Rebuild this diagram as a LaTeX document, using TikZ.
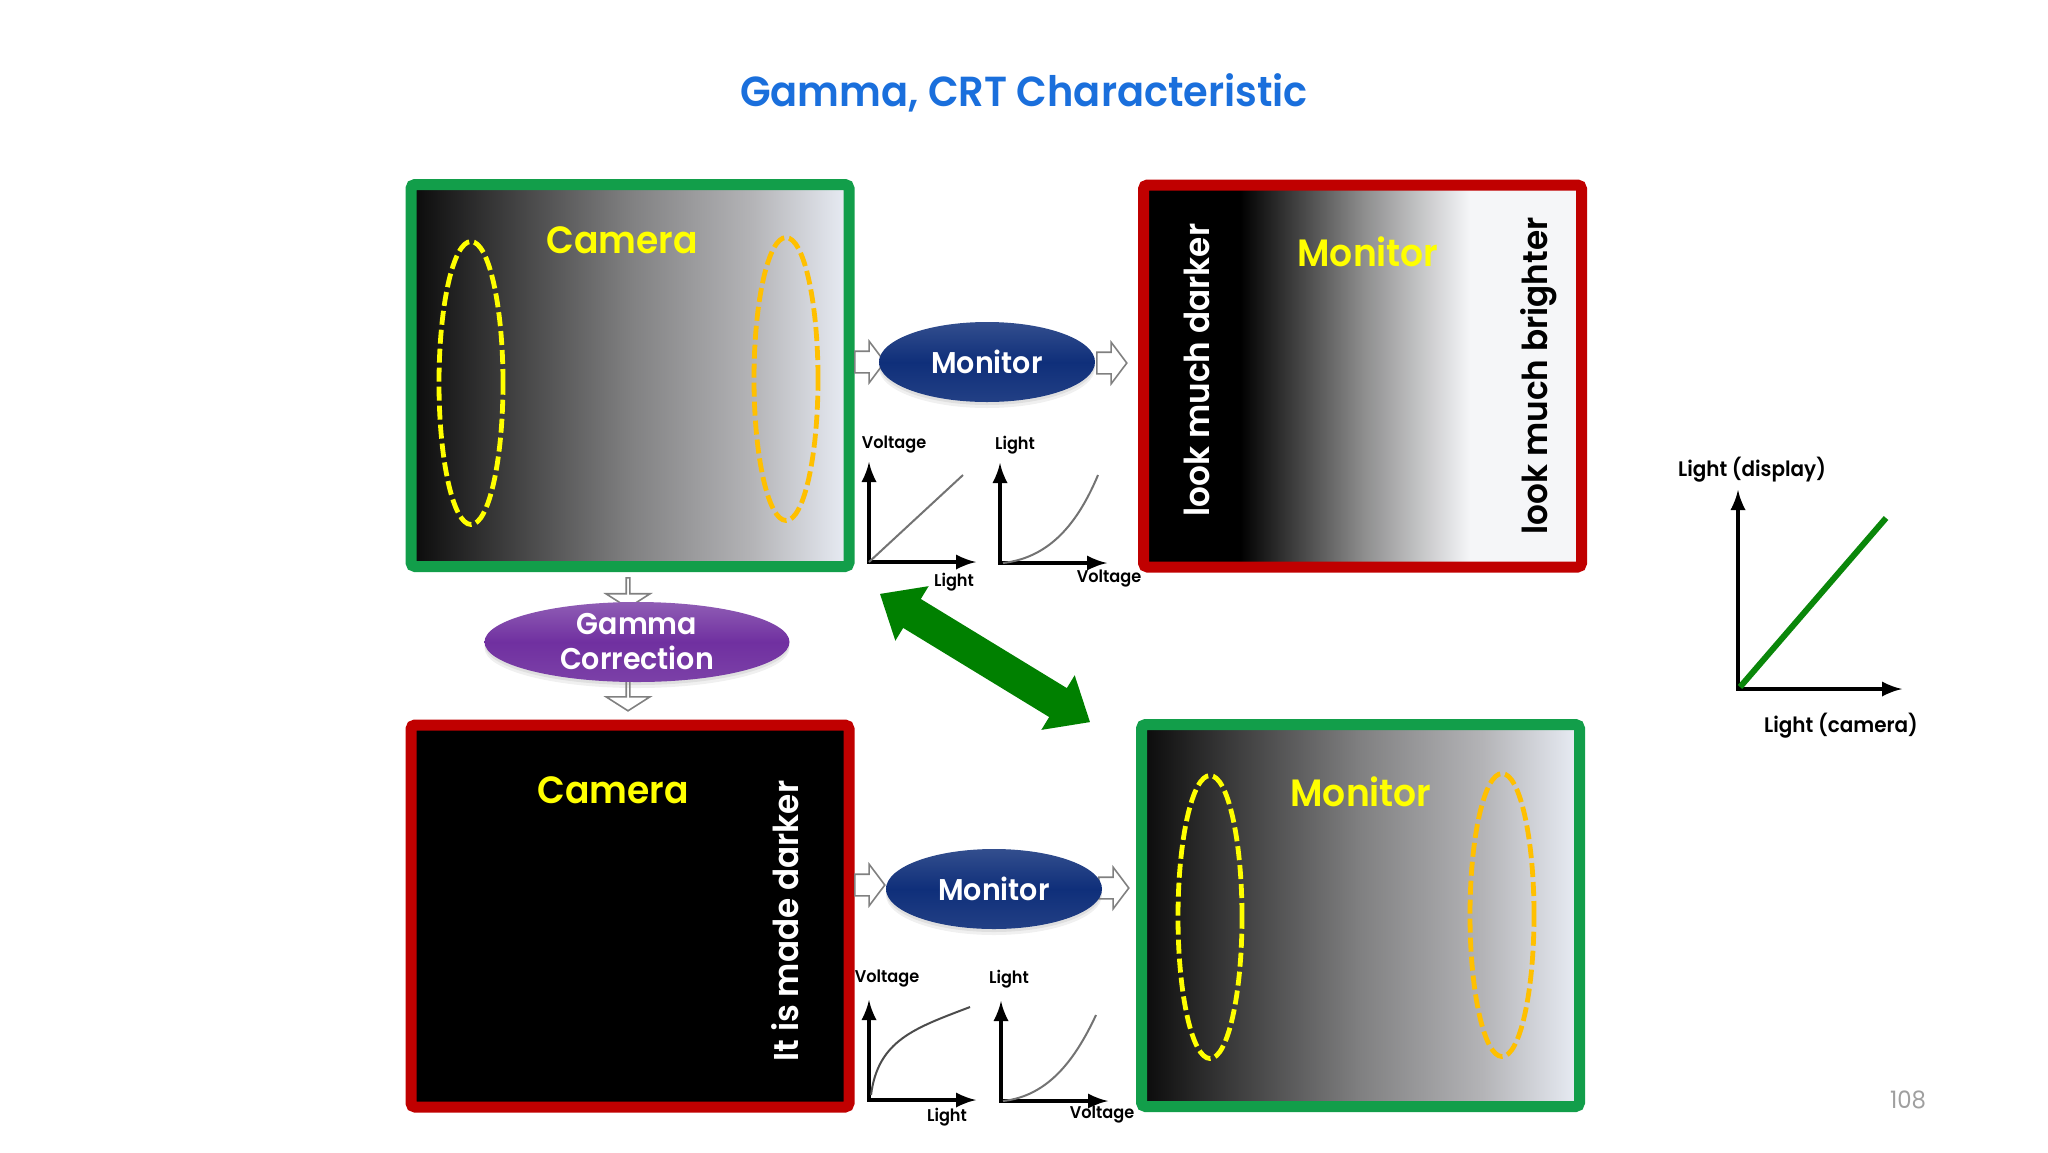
\documentclass[tikz,border=0pt]{standalone}
\usepackage{fontspec}
\setmainfont{Poppins}[BoldFont={Poppins SemiBold},FakeStretch=0.95]
\usetikzlibrary{arrows,shapes,shadows,positioning}
\definecolor{titleblue}{RGB}{26,111,220}
\definecolor{boxgreen}{RGB}{18,158,74}
\definecolor{boxred}{RGB}{192,0,0}
\definecolor{ringorange}{RGB}{255,192,0}
\definecolor{ringyellow}{RGB}{255,255,0}
\definecolor{monitorblue}{RGB}{15,47,122}
\definecolor{gammapurple}{RGB}{112,48,160}
\definecolor{arrowgreen}{RGB}{0,128,0}
\definecolor{plotgreen}{RGB}{10,135,10}
\definecolor{lightend}{RGB}{233,237,245}
\definecolor{paperwhite}{RGB}{245,246,248}
\definecolor{rampdark}{RGB}{10,10,10}
\definecolor{rampmid}{RGB}{128,128,129}
\definecolor{ramplight}{RGB}{180,180,183}
\def\px{0.5pt}
% the path spans 25bp to 75bp of these
\pgfdeclarehorizontalshading{lookgrad}{100bp}{color(0bp)=(black); color(36bp)=(black); color(50bp)=(gray!90); color(62.3bp)=(paperwhite); color(100bp)=(paperwhite)}
\pgfdeclarehorizontalshading{rampgrad}{100bp}{color(0bp)=(rampdark); color(25bp)=(rampdark); color(50bp)=(rampmid); color(64bp)=(ramplight); color(75bp)=(lightend); color(100bp)=(lightend)}
\tikzset{
    framebox/.style={draw, rectangle, rounded corners=2pt, line width=5.5pt, minimum width=438*\px, minimum height=382*\px, inner sep=0pt},
    rampbox/.style={framebox, draw=boxgreen, shading=rampgrad},
    ring/.style={draw, ellipse, dash pattern=on 7pt off 2.5pt, line width=2.4pt, minimum width=64*\px, minimum height=283*\px, inner sep=0pt},
    blob/.style={ellipse, minimum width=216*\px, minimum height=80*\px, inner sep=0pt, text=white, drop shadow={opacity=.12, shadow xshift=0pt, shadow yshift=-3pt}, drop shadow={opacity=.15, shadow xshift=0pt, shadow yshift=-1.5pt}},
    monitorblob/.style={blob, top color=monitorblue!85!white, bottom color=monitorblue!92!white, middle color=monitorblue},
    blockarrow/.style={single arrow, draw=gray, fill=white, line width=.8pt, inner xsep=0pt, inner ysep=5pt, anchor=tail, minimum height=30*\px, minimum width=40*\px, single arrow head extend=5pt, single arrow tip angle=106},
    blockdown/.style={blockarrow, shape border rotate=270, inner ysep=6.5pt, minimum width=44*\px, single arrow head extend=4.5pt, single arrow tip angle=115},
    boxlabel/.style={text=ringyellow, font=\fontsize{19}{19}\selectfont\bfseries},
    sidelabel/.style={rotate=90, font=\fontsize{17.2}{17.2}\selectfont\bfseries},
    smalllabel/.style={font=\fontsize{8.5}{8.5}\selectfont\bfseries},
    axisline/.style={<->, >=latex, line width=2.4pt},
    curveline/.style={gray!90!black, line width=1pt}
}
\begin{document}
\begin{tikzpicture}[x=0.5pt,y=-0.5pt]
    \useasboundingbox (0,0) rectangle (2048,1152);
    \node[text=titleblue, font=\fontsize{21}{21}\selectfont\bfseries] (title) at (1024,92.5) {Gamma, CRT Characteristic};

    % the four pictures
    \node[rampbox] (camtop) at (630,375.5) {};
    \node[framebox, draw=boxred, shading=lookgrad] (montop) at (1362.5,376) {};
    \node[framebox, draw=boxred, fill=black] (cambot) at (630,916) {};
    \node[rampbox] (monbot) at (1360.5,915.5) {};

    % dashed rings
    \node[ring, draw=ringyellow] (ringa) at (471,383) {};
    \node[ring, draw=ringorange] (ringb) at (786,379) {};
    \node[ring, draw=ringyellow] (ringc) at (1210,917) {};
    \node[ring, draw=ringorange] (ringd) at (1502,915) {};

    \node[boxlabel] (labela) at (622,240) {Camera};
    \node[boxlabel] (labelb) at (1368,252) {Monitor};
    \node[boxlabel] (labelc) at (613,790) {Camera};
    \node[boxlabel] (labeld) at (1361,792) {Monitor};
    \node[sidelabel, text=white] (darka) at (1197,370) {look much darker};
    \node[sidelabel, text=black] (bright) at (1539,376) {look much brighter};
    \node[sidelabel, text=white] (darkb) at (785,921) {It is made darker};

    % hollow arrows, under the ellipses
    \node[blockarrow] (ina) at (854,362) {};
    \node[blockarrow] (outa) at (1096,363) {};
    \node[blockarrow] (inb) at (854,885) {};
    \node[blockarrow] (outb) at (1098,888) {};
    \node[blockdown] (gammain) at (628,577) {};
    \node[blockdown] (gammaout) at (628,680) {};

    \node[monitorblob] (mona) at (987,362) {\fontsize{15}{15}\selectfont\bfseries Monitor};
    \node[monitorblob] (monb) at (994,889) {\fontsize{15}{15}\selectfont\bfseries Monitor};
    \node[blob, minimum width=305*\px, top color=gammapurple!78!white, bottom color=gammapurple!92!white, middle color=gammapurple, align=center, font=\fontsize{15}{17.5}\selectfont\bfseries] (gamma) at (637,642) {Gamma\\Correction};

    % green double arrow
    \node[double arrow, fill=arrowgreen, rotate=-31.4, inner xsep=0pt, inner ysep=8.25pt, minimum height=123pt, minimum width=32pt, double arrow head extend=7.5pt, double arrow tip angle=81] (swap) at (985,658) {};

    % small plots
    \foreach \ox/\oy in {869/562, 1000/563, 869/1100, 1001/1101}
        \draw[axisline] (\ox,\oy-100) |- (\ox+107,\oy);
    \draw[curveline] (869,562) -- (963,475);
    \draw[curveline] (1003,563) .. controls (1045,558) and (1075,530) .. (1098,475);
    \draw[curveline, black!70] (871,1095) .. controls (878,1040) and (915,1028) .. (970,1007);
    \draw[curveline] (1003,1101) .. controls (1048,1096) and (1075,1060) .. (1096,1015);

    \node[smalllabel] (ya) at (894,445) {Voltage};
    \node[smalllabel] (xa) at (954,582) {Light};
    \node[smalllabel] (yb) at (1015,445) {Light};
    \node[smalllabel] (xb) at (1109,579) {Voltage};
    \node[smalllabel] (yc) at (887,979) {Voltage};
    \node[smalllabel] (xc) at (947,1117) {Light};
    \node[smalllabel] (yd) at (1009,979) {Light};
    \node[smalllabel] (xd) at (1102,1115) {Voltage};

    % large plot on the right
    \draw[axisline] (1738,490) |- (1902,689);
    \draw[plotgreen, line width=3pt] (1740,687) -- (1886,518);
    \node[font=\fontsize{10.5}{10.5}\selectfont\bfseries] (ylarge) at (1752,470) {Light (display)};
    \node[font=\fontsize{10.5}{10.5}\selectfont\bfseries] (xlarge) at (1841,726) {Light (camera)};

    \node[text=gray!75, font=\fontsize{12}{12}\selectfont] (page) at (1908,1100) {108};
\end{tikzpicture}
\end{document}
